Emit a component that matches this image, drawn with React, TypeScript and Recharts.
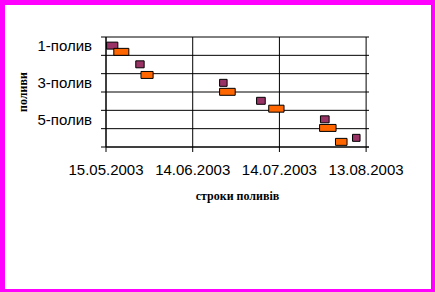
import React from 'react';
import { ComposedChart, XAxis, YAxis, CartesianGrid, ReferenceArea, Label } from 'recharts';

// Excel date serial of 15.05.2003 (start of the axis)
const START_DATE = 37756;
const END_DATE = 37847;
const xTicks = [37756, 37786, 37816, 37846];
const xTickLabels = ['15.05.2003', '14.06.2003', '14.07.2003', '13.08.2003'];

const rowLabels = ['1-полив', '2-полив', '3-полив', '4-полив', '5-полив', '6-полив'];
const rowBounds = [0, 1, 2, 3, 4, 5, 6];
const labelTicks = [0.5, 2.5, 4.5];

// purple series: days from start date, row position
const planStart = [0.2, 10.3, 39.3, 52.1, 74.2, 85.3];
const planEnd = [4.1, 13.2, 41.9, 55.1, 77.2, 87.9];
const planRow = [0.47, 1.49, 2.5, 3.48, 4.49, 5.5];

// orange series
const factStart = [2.7, 12.1, 39.3, 56.3, 73.9, 79.4];
const factEnd = [7.9, 16.3, 44.7, 61.6, 79.6, 83.4];
const factRow = [0.81, 2.07, 2.99, 3.91, 4.96, 5.72];

const HALF = 0.19;
const TICK_SIZE = 5;
const TICK_MARGIN = 9;

const YTick = (props: any) => {
  const { x, y, payload } = props;
  const v = payload.value as number;
  if (Number.isInteger(v)) {
    return (
      <line x1={x + TICK_MARGIN} x2={x + TICK_MARGIN + TICK_SIZE} y1={y} y2={y} stroke="#000" strokeWidth={1} />
    );
  }
  return (
    <text x={x} y={y} dy="0.355em" textAnchor="end" fill="#000" fontSize={15} fontFamily="Liberation Sans, Arial, sans-serif">
      {rowLabels[Math.floor(v)]}
    </text>
  );
};

export default function App() {
  const yTicks = [...rowBounds, ...labelTicks].sort((a, b) => a - b);
  return (
    <div style={{ position: 'absolute', left: 0, top: 0, width: 435, height: 292, background: '#fff' }}>
      <ComposedChart width={435} height={292} margin={{ top: 37, right: 66, left: 0, bottom: 80 }} data={[]}>
        <CartesianGrid stroke="#000" strokeWidth={1} horizontalValues={rowBounds} verticalValues={xTicks} fill="none" />
        <XAxis
          type="number"
          dataKey="x"
          domain={[START_DATE, END_DATE]}
          ticks={xTicks}
          tickFormatter={(v: number) => xTickLabels[xTicks.indexOf(v)]}
          allowDataOverflow
          stroke="#000"
          tickSize={5}
          tickMargin={12}
          height={65}
          interval={0}
          tick={{ fill: '#000', fontSize: 15, fontFamily: 'Liberation Sans, Arial, sans-serif' }}
        >
          <Label
            value="строки поливів"
            position="insideBottom"
            offset={12}
            style={{ fontFamily: 'Liberation Serif, Times New Roman, serif', fontWeight: 'bold', fontSize: 12, fill: '#000' }}
          />
        </XAxis>
        <YAxis
          type="number"
          domain={[0, 6]}
          reversed
          ticks={yTicks}
          interval={0}
          allowDataOverflow
          stroke="#000"
          tickLine={false}
          tickSize={TICK_SIZE}
          tickMargin={TICK_MARGIN}
          width={106}
          tick={<YTick />}
        >
          <Label
            value="поливи"
            angle={-90}
            position="insideLeft"
            offset={23}
            style={{ textAnchor: 'middle', fontFamily: 'Liberation Serif, Times New Roman, serif', fontWeight: 'bold', fontSize: 12, fill: '#000' }}
          />
        </YAxis>
        {planStart.map((s, i) => (
          <ReferenceArea
            key={'p' + i}
            x1={START_DATE + s}
            x2={START_DATE + planEnd[i]}
            y1={planRow[i] - HALF}
            y2={planRow[i] + HALF}
            fill="#993366"
            fillOpacity={1}
            stroke="#000"
            strokeWidth={1}
            ifOverflow="visible"
          />
        ))}
        {factStart.map((s, i) => (
          <ReferenceArea
            key={'f' + i}
            x1={START_DATE + s}
            x2={START_DATE + factEnd[i]}
            y1={factRow[i] - HALF}
            y2={factRow[i] + HALF}
            fill="#FF6600"
            fillOpacity={1}
            stroke="#000"
            strokeWidth={1}
            ifOverflow="visible"
          />
        ))}
      </ComposedChart>
      <div
        style={{
          position: 'absolute',
          left: 0,
          top: 0,
          width: 435,
          height: 292,
          boxSizing: 'border-box',
          borderStyle: 'solid',
          borderColor: '#FF00FF',
          borderWidth: '5px 4px 3px 5px',
          pointerEvents: 'none',
        }}
      />
    </div>
  );
}
